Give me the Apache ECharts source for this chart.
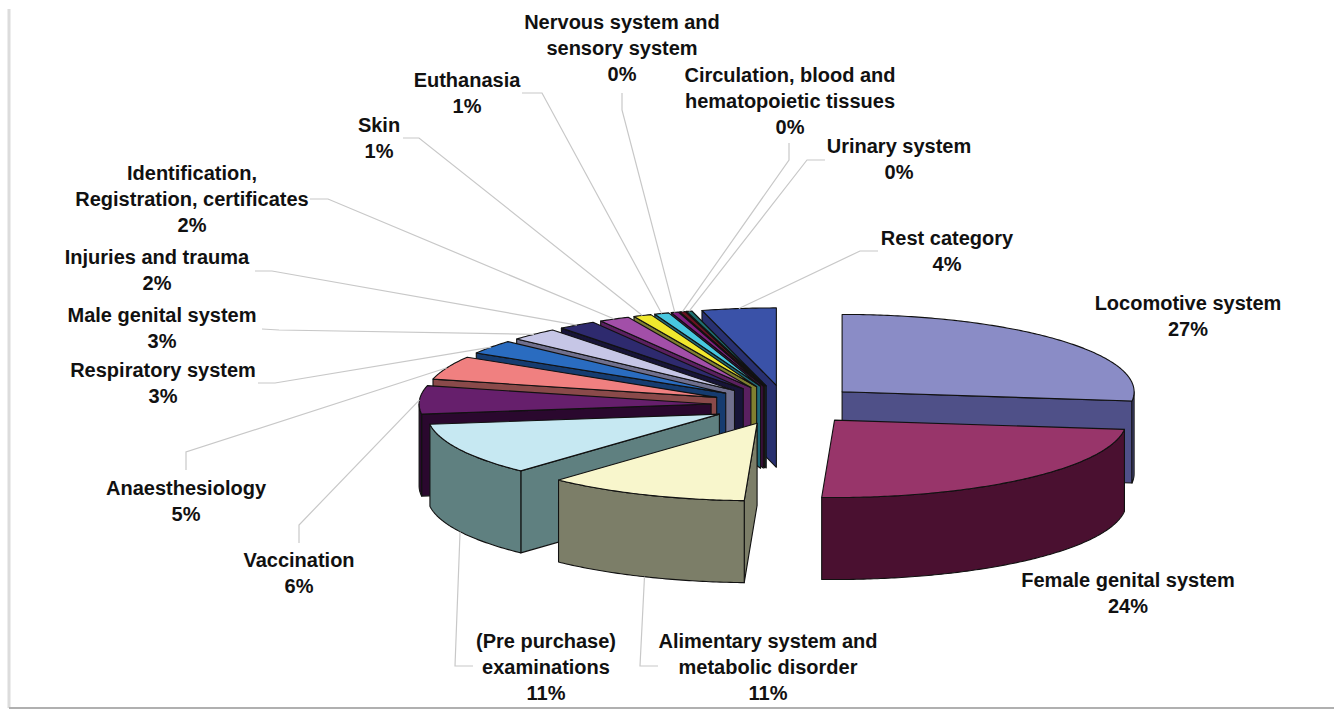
<!DOCTYPE html>
<html><head><meta charset="utf-8">
<script src="https://cdn.jsdelivr.net/npm/echarts@6/dist/echarts.min.js"></script>
<style>html,body{margin:0;padding:0;background:#fff}#chart{width:1334px;height:711px}</style>
</head><body><div id="chart"></div>
<script>
// ---- data ----
const categories = ["Locomotive system","Female genital system","Alimentary system and metabolic disorder","(Pre purchase) examinations","Vaccination","Anaesthesiology","Respiratory system","Male genital system","Injuries and trauma","Identification, Registration, certificates","Skin","Euthanasia","Nervous system and sensory system","Circulation, blood and hematopoietic tissues","Urinary system","Rest category"];
const labelText = ["Locomotive system","Female genital system","Alimentary system and\nmetabolic disorder","(Pre purchase)\nexaminations","Vaccination","Anaesthesiology","Respiratory system","Male genital system","Injuries and trauma","Identification,\nRegistration, certificates","Skin","Euthanasia","Nervous system and\nsensory system","Circulation, blood and\nhematopoietic tissues","Urinary system","Rest category"];
const values = [26.9, 23.8, 11.2, 11.0, 5.9, 4.9, 2.9, 2.7, 2.1, 1.7, 1.0, 0.8, 0.4, 0.3, 0.3, 4.1];

// ---- styles ----
const topColors  = ["#8a8cc6","#98356a","#f8f6cc","#c6e8f2","#661f6c","#f08080","#2a6cc0","#c6c6e6","#2e2a6e","#a24fa8","#f0e82e","#48c8e0","#7e2080","#6a1222","#1f7070","#3a52a8"];
const sideColors = ["#4f5088","#4a1030","#7c7e68","#5f8080","#2a082e","#8a4a4a","#163c70","#70708e","#171438","#5a2060","#808030","#206a78","#401040","#380810","#103a3a","#283070"];

// ---- layout (label anchors and leader elbows, pixels) ----
const labelPos = [[1188,303],[1128,580],[768,641],[546,641],[299,560],[186,488],[163,370],[162,315],[157,257],[192,173],[379,125],[467,80],[622,22],[790,75],[899,146],[947,238]];
const leaderPts = [null,null,[658,666,640,666],[473,666,455,666],[299,543,299,525],[186,470,186,452],[258,383,275,383],[262,329,279,330],[255,271,272,271],[310,199,328,199],[403,138,419,138],[522,93,542,93],[622,93,622,110],[789,143,789,160],[825,160,807,160],[878,251,860,251]];

const CX = 786, CY = 405, R = 292, K = 0.265, H = 82, EXPLODE = 75;
const total = values.reduce((s, v) => s + v, 0);
const TAU = Math.PI * 2;
let acc = 0;
const angles = values.map(v => { const a = acc / total * TAU; acc += v; return [a, acc / total * TAU]; });

function renderSlice(params, api) {
  const i = params.dataIndex;
  const v = api.value(0);
  const [a, b] = angles[i];
  const m = (a + b) / 2;
  const ox = EXPLODE * Math.sin(m), oy = -EXPLODE * Math.cos(m);
  const pt = (t, r, z) => [CX + ox + r * Math.sin(t), CY + (oy - r * Math.cos(t)) * K + z];
  const depth = (t, r) => oy - r * Math.cos(t);
  const arc = (t0, t1, z) => {
    const n = Math.max(2, Math.ceil((t1 - t0) / 0.012));
    const out = [];
    for (let j = 0; j <= n; j++) out.push(pt(t0 + (t1 - t0) * j / n, R, z));
    return out;
  };
  const edge = { stroke: '#111', lineWidth: 1.1, lineJoin: 'round' };
  const children = [];
  if (Math.sin(a) < -1e-6) {
    children.push({ type: 'polygon', z2: 500 + depth(a, R / 2),
      shape: { points: [pt(a, 0, 0), pt(a, R, 0), pt(a, R, H), pt(a, 0, H)] },
      style: Object.assign({ fill: sideColors[i] }, edge) });
  }
  if (Math.sin(b) > 1e-6) {
    children.push({ type: 'polygon', z2: 500 + depth(b, R / 2),
      shape: { points: [pt(b, 0, 0), pt(b, R, 0), pt(b, R, H), pt(b, 0, H)] },
      style: Object.assign({ fill: sideColors[i] }, edge) });
  }
  const c0 = Math.max(a, Math.PI / 2), c1 = Math.min(b, 3 * Math.PI / 2);
  if (c1 > c0) {
    const top = arc(c0, c1, 0), bot = arc(c0, c1, H).reverse();
    children.push({ type: 'polygon', z2: 500 + depth((c0 + c1) / 2, R),
      shape: { points: top.concat(bot) },
      style: Object.assign({ fill: sideColors[i] }, edge) });
  }
  children.push({ type: 'polygon', z2: 1000,
    shape: { points: [pt(0, 0, 0)].concat(arc(a, b, 0)) },
    style: Object.assign({ fill: topColors[i] }, edge) });

  const lp = leaderPts[i];
  if (lp) {
    const front = Math.cos(m) < 0;
    const end = front ? pt(m, R, H) : pt(m, R, 0);
    children.push({ type: 'polyline', z2: 2000,
      shape: { points: [[lp[0], lp[1]], [lp[2], lp[3]], end] },
      style: { stroke: '#c8c8c8', lineWidth: 1.2, fill: null } });
  }
  const pos = labelPos[i];
  children.push({ type: 'text', z2: 2001,
    style: { text: labelText[i] + '\n' + Math.round(v / total * 100) + '%',
      x: pos[0], y: pos[1] - 13, align: 'center', verticalAlign: 'top',
      lineHeight: 26, fill: '#111',
      font: 'bold 20px "Liberation Sans", Arial, sans-serif' } });
  return { type: 'group', children };
}

const chart = echarts.init(document.getElementById('chart'), null, { renderer: 'svg' });
chart.setOption({
  backgroundColor: '#fff',
  animation: false,
  graphic: [
    { type: 'line', shape: { x1: 9, y1: 9, x2: 9, y2: 708 }, style: { stroke: '#dcdcdc', lineWidth: 3 } },
    { type: 'line', shape: { x1: 9, y1: 708, x2: 1334, y2: 708 }, style: { stroke: '#b0b0b0', lineWidth: 2 } }
  ],
  series: [{
    type: 'custom',
    coordinateSystem: 'none',
    silent: true,
    renderItem: renderSlice,
    data: values.map((v, i) => ({ name: categories[i], value: [v] }))
  }]
});
</script>
</body></html>
